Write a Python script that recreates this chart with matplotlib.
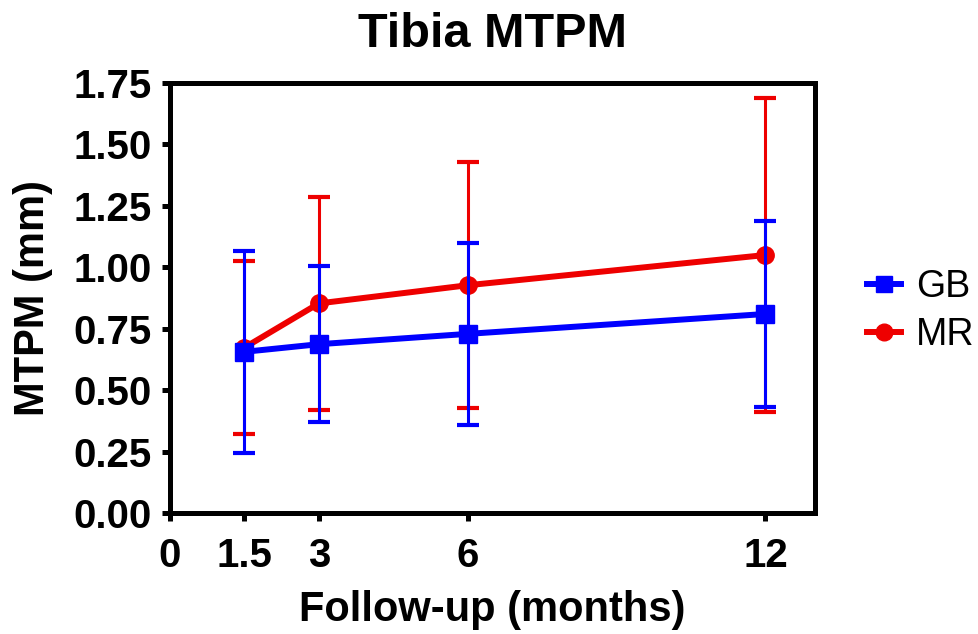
import numpy as np
import matplotlib
matplotlib.use('Agg')
import matplotlib.pyplot as plt
from matplotlib.lines import Line2D

plt.rcParams['font.family'] = ['Liberation Sans', 'DejaVu Sans']

months = [1.5, 3, 6, 12]
gb_mean = [0.656, 0.687, 0.729, 0.810]
gb_sd = [0.410, 0.317, 0.371, 0.378]
mr_mean = [0.673, 0.853, 0.927, 1.050]
mr_sd = [0.352, 0.434, 0.500, 0.638]

xticks = [0, 1.5, 3, 6, 12]
xticklabels = ['0', '1.5', '3', '6', '12']
yticks = np.arange(0, 1.76, 0.25)

blue = '#0000ff'
red = '#ee0000'

fig = plt.figure(figsize=(9.79, 6.34), dpi=100)
ax = fig.add_axes([0.1736, 0.1909, 0.6589, 0.6781])

ax.errorbar(months, mr_mean, yerr=mr_sd, color=red, lw=4.3, marker='o',
            ms=12.5, elinewidth=2.2, capsize=8, capthick=3.0, zorder=3)
ax.errorbar(months, gb_mean, yerr=gb_sd, color=blue, lw=4.3, marker='s',
            ms=12.5, elinewidth=2.2, capsize=8, capthick=3.0, zorder=4)

ax.set_xlim(0, 13)
ax.set_ylim(0, 1.75)
ax.set_xticks(xticks)
ax.set_xticklabels(xticklabels)
ax.set_yticks(yticks)
ax.set_yticklabels(['%.2f' % v for v in yticks])

for s in ax.spines.values():
    s.set_linewidth(3.6)
ax.tick_params(width=3.6, length=6, labelsize=29)
ax.tick_params(axis='x', pad=11)
ax.tick_params(axis='y', pad=7)
for lbl in ax.get_xticklabels() + ax.get_yticklabels():
    lbl.set_fontweight('bold')

ax.set_title('Tibia MTPM', fontsize=35, fontweight='bold', pad=26)
ax.set_xlabel('Follow-up (months)', fontsize=30, fontweight='bold', labelpad=11)
ax.set_ylabel('MTPM (mm)', fontsize=30, fontweight='bold', labelpad=15)

handles = [Line2D([], [], color=blue, lw=4.3, marker='s', ms=12),
           Line2D([], [], color=red, lw=4.3, marker='o', ms=12)]
fig.legend(handles, ['GB', 'MR'], loc='center left', bbox_to_anchor=(0.886, 0.509),
           frameon=False, fontsize=27, handlelength=0.9, handletextpad=0.4,
           labelspacing=0.32, borderpad=0, borderaxespad=0)

fig.savefig('out.png', dpi=100)
